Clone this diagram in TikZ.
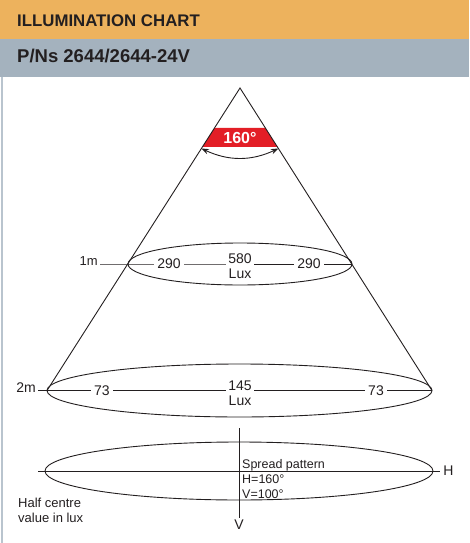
\documentclass[tikz,border=0pt]{standalone}
\usepackage{fontspec}
\setmainfont{Liberation Sans}
\usetikzlibrary{arrows.meta,calc}
\definecolor{hdrorange}{HTML}{EDB25D}
\definecolor{hdrgray}{HTML}{A4B2BE}
\definecolor{edgegray}{HTML}{B9C4CE}
\definecolor{bandred}{HTML}{E31E26}
\definecolor{inkdark}{HTML}{231F20}
\begin{document}
\begin{tikzpicture}[x=1pt,y=-1pt,
  thinline/.style={line width=0.9pt, draw=inkdark},
  lbl/.style={font=\fontsize{14}{15}\selectfont, text=inkdark, inner sep=0pt},
  numlbl/.style={lbl, fill=white, inner xsep=3.5pt, inner ysep=1pt},
  stacklbl/.style={lbl, fill=white, align=center, inner xsep=2pt, anchor=north},
  smalllbl/.style={font=\fontsize{12.5}{15}\selectfont, text=inkdark, inner sep=0pt},
  titlelbl/.style={font=\bfseries\fontsize{16.8}{18}\selectfont, text=inkdark, inner sep=0pt, anchor=base west},
  bothtips/.style={{Stealth[length=7.5pt,width=5.5pt]}-{Stealth[length=7.5pt,width=5.5pt]}}
]
\useasboundingbox (0,0) rectangle (469,543);
% header bands
\fill[hdrorange] (0,0) rectangle (469,39);
\fill[hdrgray] (0,39) rectangle (469,77);
\draw[edgegray, line width=2pt] (2,77) -- (2,543);
\node[titlelbl] (title) at (17,27) {ILLUMINATION CHART};
\node[titlelbl, font=\bfseries\fontsize{18.5}{20}\selectfont] (pn) at (17,63) {P/Ns 2644/2644-24V};

% cone
\coordinate (apex) at (240,88);
\coordinate (L2) at (47,390.5);
\coordinate (R2) at (432,390.5);
\fill[bandred] ($(apex)!0.1322!(L2)$) -- ($(apex)!0.1322!(R2)$) -- ($(apex)!0.195!(R2)$) -- ($(apex)!0.195!(L2)$) -- cycle;
\node[font=\bfseries\fontsize{16}{18}\selectfont, text=white, inner sep=0pt] (ang) at (240,137.5) {160°};
\coordinate (arcL) at ($(apex)!0.2!(L2)$);
\coordinate (arcR) at ($(apex)!0.2!(R2)$);
\draw[thinline, bothtips] (arcL) to[bend right=25] (arcR);
\draw[thinline] (L2) -- (apex) -- (R2);

% 1 m level
\coordinate (e1L) at (128,264);
\coordinate (e1R) at (352,264);
\coordinate (m1s) at (100,264);
\draw[thinline] (240,264) ellipse [x radius=112, y radius=21];
\node[smalllbl, font=\fontsize{13}{15}\selectfont, anchor=base east] (m1) at (98,265) {1m};
\draw[thinline] (m1s) -- (e1L) -- (e1R);
\node[numlbl] (a290) at (169,264) {290};
\node[numlbl] (b290) at (309,264) {290};
\node[stacklbl] (c580) at (240,253.5) {580\\Lux};

% 2 m level
\coordinate (m2s) at (38,390.5);
\draw[thinline] (239.5,390.5) ellipse [x radius=192.5, y radius=26.5];
\node[lbl, anchor=base east] (m2) at (36,392) {2m};
\draw[thinline] (m2s) -- (L2) -- (R2);
\node[numlbl] (a73) at (102,390.5) {73};
\node[numlbl] (b73) at (376,390.5) {73};
\node[stacklbl] (c145) at (240,381) {145\\Lux};

% spread pattern
\draw[thinline] (239,471) ellipse [x radius=194, y radius=29];
\coordinate (Hs) at (38,471);
\coordinate (Vs) at (239,428);
\node[lbl, inner xsep=3pt] (Hlab) at (448.5,471) {H};
\node[lbl, inner ysep=2pt] (Vlab) at (239,525) {V};
\draw[thinline] (Hs) -- (Hlab);
\draw[thinline] (Vs) -- (Vlab);
\node[smalllbl, anchor=base west] (sp1) at (242,468) {Spread pattern};
\node[smalllbl, anchor=base west] (sp2) at (242,483) {H=160°};
\node[smalllbl, anchor=base west] (sp3) at (242,498) {V=100°};
\node[smalllbl, font=\fontsize{13}{15}\selectfont, anchor=base west] (hc1) at (18,507) {Half centre};
\node[smalllbl, font=\fontsize{13}{15}\selectfont, anchor=base west] (hc2) at (18,522) {value in lux};
\end{tikzpicture}
\end{document}
